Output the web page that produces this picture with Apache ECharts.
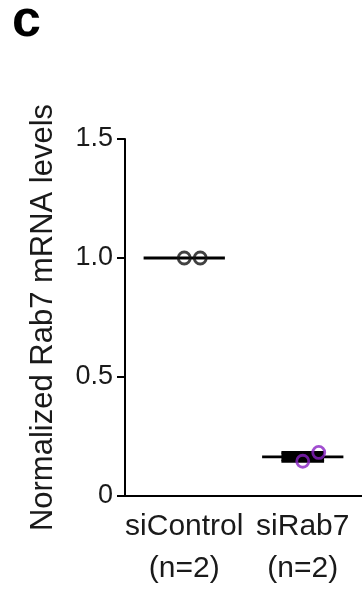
<!DOCTYPE html>
<html><head><meta charset="utf-8">
<script src="https://cdn.jsdelivr.net/npm/echarts@6/dist/echarts.min.js"></script>
<style>html,body{margin:0;padding:0;background:#fff;overflow:hidden}#c{width:362px;height:590px}</style>
</head><body><div id="c"></div>
<script>
// ---- data ----
const groupNames = ['siControl', 'siRab7'];
const groupN = ['(n=2)', '(n=2)'];
const siControlValues = [1.0, 1.0];
const siRab7Values = [0.146, 0.183];
const pointJitter = [0, 0.135];
const yTickValues = [0, 0.5, 1.0, 1.5];
const yTickLabels = ['0', '0.5', '1.0', '1.5'];
const yAxisTitle = 'Normalized Rab7 mRNA levels';
const panelLabel = 'c';

// ---- build ----
const groups = [siControlValues, siRab7Values];
const pointColors = ['#111111', '#8a22c4'];
function mean(a){return a.reduce((s,v)=>s+v,0)/a.length;}
function sem(a){const m=mean(a);const sd=Math.sqrt(a.reduce((s,v)=>s+(v-m)*(v-m),0)/(a.length-1));return sd/Math.sqrt(a.length);}
const summary = groups.map((g,i)=>[i, mean(g), sem(g)]);

const FONT = '"Liberation Sans", Arial, Helvetica, sans-serif';
const TXT = '#1a1a1a';

const chart = echarts.init(document.getElementById('c'), null, {renderer:'canvas'});
const pointSeries = groups.map((g,gi)=>({
  type:'scatter', xAxisIndex:1, yAxisIndex:0, z:5,
  data: g.map((v,k)=>[gi + pointJitter[k], v]),
  symbol:'circle', symbolSize:12,
  itemStyle:{color:'rgba(0,0,0,0)', borderColor:pointColors[gi], borderWidth:2.8}
}));

chart.setOption({
  animation:false,
  backgroundColor:'#fff',
  graphic:[{type:'text', left:12, top:-4, style:{text:panelLabel, font:'bold 52px '+FONT, fill:'#000'}}],
  grid:{left:125, top:139, width:242, height:361, containLabel:false},
  xAxis:[{
    type:'category', data:groupNames.map((g,i)=>g+'\n'+groupN[i]),
    axisLine:{onZero:false, lineStyle:{color:'#000', width:2}},
    axisTick:{alignWithLabel:true, length:9, lineStyle:{color:'#000', width:2}},
    axisLabel:{fontSize:30, lineHeight:42, margin:10, color:TXT, fontFamily:FONT, interval:0},
    splitLine:{show:false}
  },{
    type:'value', min:-0.5, max:1.5, show:false
  }],
  yAxis:{
    type:'value', min:0, max:1.5, interval:0.5,
    axisLine:{show:true, onZero:false, lineStyle:{color:'#000', width:2}},
    axisTick:{show:true, length:8, lineStyle:{color:'#000', width:2}},
    axisLabel:{fontSize:27, margin:12, color:TXT, fontFamily:FONT,
      formatter:v=>yTickLabels[yTickValues.indexOf(Math.round(v*10)/10)]},
    splitLine:{show:false},
    name:yAxisTitle, nameLocation:'middle', nameGap:66,
    nameTextStyle:{fontSize:31, color:TXT, fontFamily:FONT}
  },
  series:[{
    type:'custom', xAxisIndex:1, yAxisIndex:0, z:3,
    data:summary,
    renderItem:function(params, api){
      const i=api.value(0), m=api.value(1), e=api.value(2);
      const L=api.coord([i-0.343, m]), R=api.coord([i+0.343, m]);
      const cl=api.coord([i-0.18, m+e]), cr=api.coord([i+0.18, m+e]);
      const bl=api.coord([i-0.18, m-e]), br=api.coord([i+0.18, m-e]);
      const st={stroke:'#000', lineWidth:2.8};
      const children=[{type:'line', shape:{x1:L[0],y1:L[1],x2:R[0],y2:R[1]}, style:st}];
      if(e>0){
        children.push({type:'line', shape:{x1:cl[0],y1:cl[1],x2:cr[0],y2:cr[1]}, style:st});
        children.push({type:'line', shape:{x1:bl[0],y1:bl[1],x2:br[0],y2:br[1]}, style:st});
        children.push({type:'rect', shape:{x:cl[0], y:cl[1], width:cr[0]-cl[0], height:bl[1]-cl[1]}, style:{fill:'#000'}});
      }
      return {type:'group', children};
    }
  }].concat(pointSeries)
});
</script></body></html>
